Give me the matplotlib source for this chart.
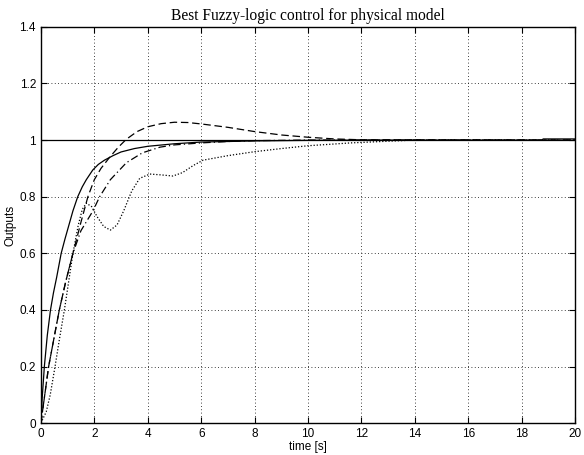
import numpy as np
import matplotlib.pyplot as plt

# curves
t_solid = [0, 0.05, 0.13, 0.24, 0.36, 0.47, 0.59, 0.76, 0.9, 1.05, 1.2, 1.38, 1.55, 1.7, 1.94, 2.15, 2.38,
           2.7, 3, 3.5, 4, 5, 6, 8, 10, 12, 14, 16, 18.75, 18.8, 20]
y_solid = [0, 0.09, 0.2, 0.31, 0.4, 0.46, 0.515, 0.6, 0.65, 0.7, 0.75, 0.8, 0.835, 0.86, 0.894, 0.914, 0.929,
           0.945, 0.958, 0.97, 0.978, 0.987, 0.993, 0.997, 0.999, 1.0, 1.0, 1.0, 1.0, 1.004, 1.004]

t_dash = [0, 0.29, 0.69, 0.93, 1.2, 1.5, 1.76, 2.0, 2.25, 2.58, 2.9, 3.2, 3.6, 4.0, 4.5, 5.0, 5.5, 6.0,
          7.0, 8.0, 9.0, 10.0, 11.0, 12.0, 20]
y_dash = [0, 0.2, 0.4, 0.5, 0.6, 0.71, 0.8, 0.86, 0.9, 0.94, 0.975, 1.003, 1.03, 1.047, 1.058, 1.063,
          1.062, 1.057, 1.045, 1.03, 1.018, 1.01, 1.004, 1.001, 1.0]

t_dashdot = [0, 0.29, 0.69, 0.93, 1.2, 1.5, 1.95, 2.2, 2.6, 3.2, 3.8, 4.46, 5, 6, 7, 8, 10, 20]
y_dashdot = [0, 0.2, 0.4, 0.5, 0.6, 0.68, 0.75, 0.8, 0.86, 0.92, 0.955, 0.975, 0.983, 0.99, 0.995, 0.998, 1.0, 1.0]

t_dot = [0, 0.2, 0.35, 0.53, 0.7, 0.88, 1.04, 1.2, 1.4, 1.55, 1.7, 1.9, 2.1, 2.35, 2.6, 2.85, 3.1, 3.4,
         3.7, 4.08, 4.5, 4.94, 5.3, 5.7, 6.07, 7.0, 8.0, 9.0, 10.0, 11.6, 13, 14, 20]
y_dot = [0, 0.04, 0.1, 0.2, 0.3, 0.4, 0.5, 0.6, 0.7, 0.755, 0.777, 0.765, 0.73, 0.695, 0.682, 0.7, 0.75,
         0.82, 0.865, 0.88, 0.877, 0.873, 0.885, 0.91, 0.929, 0.945, 0.959, 0.97, 0.98, 0.99, 0.996, 1.0, 1.0]

t_ref = [0, 20]
y_ref = [1, 1]

xticks = np.arange(0, 21, 2)
yticks = [0, 0.2, 0.4, 0.6, 0.8, 1, 1.2, 1.4]
ytick_labels = ['0', '0.2', '0.4', '0.6', '0.8', '1', '1.2', '1.4']

plt.rcParams['font.family'] = ['Liberation Sans', 'DejaVu Sans']

fig = plt.figure(figsize=(5.84, 4.55), dpi=100)
ax = fig.add_axes([0.070, 0.070, 0.915, 0.871])

lw = 0.9
ax.plot(t_ref, y_ref, color='k', linewidth=lw)
ax.plot(t_solid, y_solid, color='k', linewidth=lw)
ax.plot(t_dash, y_dash, color='k', linewidth=lw, linestyle=(0, (6, 3)))
ax.plot(t_dashdot, y_dashdot, color='k', linewidth=lw, linestyle=(0, (6, 2.5, 1, 2.5)))
ax.plot(t_dot, y_dot, color='k', linewidth=lw, linestyle=(0, (1, 1.5)))

ax.set_xlim(0, 20)
ax.set_ylim(0, 1.4)
ax.set_xticks(xticks)
ax.set_yticks(yticks)
ax.set_yticklabels(ytick_labels)
ax.grid(True, color='k', linestyle=(0, (1, 3)), linewidth=0.6)
ax.tick_params(direction='in', top=True, right=True, labelsize=8.5, length=4, width=0.8)
for s in ax.spines.values():
    s.set_linewidth(1.0)

ax.set_xlabel('time [s]', fontsize=8.5, labelpad=1)
ax.set_ylabel('Outputs', fontsize=8.5, labelpad=2)
ax.set_title('Best Fuzzy-logic control for physical model', fontsize=11.2,
             family=['Liberation Serif', 'DejaVu Serif'], pad=5)

fig.savefig('out.png', dpi=100)
